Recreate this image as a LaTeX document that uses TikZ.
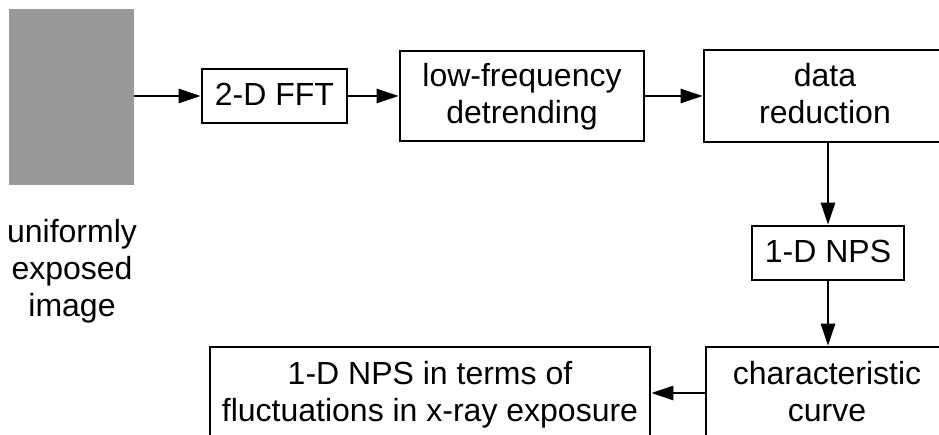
\documentclass[tikz,border=0pt]{standalone}
\usepackage{fontspec}
\setmainfont{Liberation Sans}
\usetikzlibrary{arrows.meta}
\definecolor{imggray}{HTML}{999999}
% uniform line strut: 28pt above, 9pt below the baseline
\newcommand{\ls}{\rule[-9pt]{0pt}{37pt}}
\begin{document}
\begin{tikzpicture}[x=1pt,y=-1pt,
  every node/.style={font=\fontsize{32}{37}\selectfont, inner sep=0pt, align=center},
  box/.style={draw, line width=2.6pt, fill=white},
  flow/.style={line width=2.6pt, -{Triangle[length=22pt,width=14pt]}}]
\useasboundingbox (0,0) rectangle (939,435);
\clip (0,0) rectangle (939,435);

% input image
\node[fill=imggray, minimum width=125pt, minimum height=176pt] (img) at (71.5,97) {};
\node (cap) at (72,270.5) {\ls uniformly\\\ls exposed\\\ls image};

% processing chain
\node[box, minimum width=145pt, minimum height=54pt] (fft) at (274.5,96) {\ls 2-D FFT};
\node[box, minimum width=244pt, minimum height=90pt] (low) at (522,96) {\ls low-frequency\\\ls detrending};
\node[box, minimum width=242pt, minimum height=92pt] (data) at (825,96) {\ls data\\\ls reduction};
\node[box, minimum width=152pt, minimum height=54pt] (nps) at (828,253) {\ls 1-D NPS};
\node[box, minimum width=242pt, minimum height=92pt] (curve) at (827,393) {\ls characteristic\\\ls curve};
\node[box, minimum width=440pt, minimum height=92pt] (out) at (430,393) {\ls 1-D NPS in terms of\\\ls fluctuations in x-ray exposure};

% connectors
\draw[flow] (img.east |- fft.west) -- (fft.west);
\draw[flow] (fft.east) -- (low.west);
\draw[flow] (low.east) -- (data.west);
\draw[flow] (nps.north |- data.south) -- (nps.north);
\draw[flow] (nps.south) -- (nps.south |- curve.north);
\draw[flow] (curve.west) -- (out.east);
\end{tikzpicture}
\end{document}
